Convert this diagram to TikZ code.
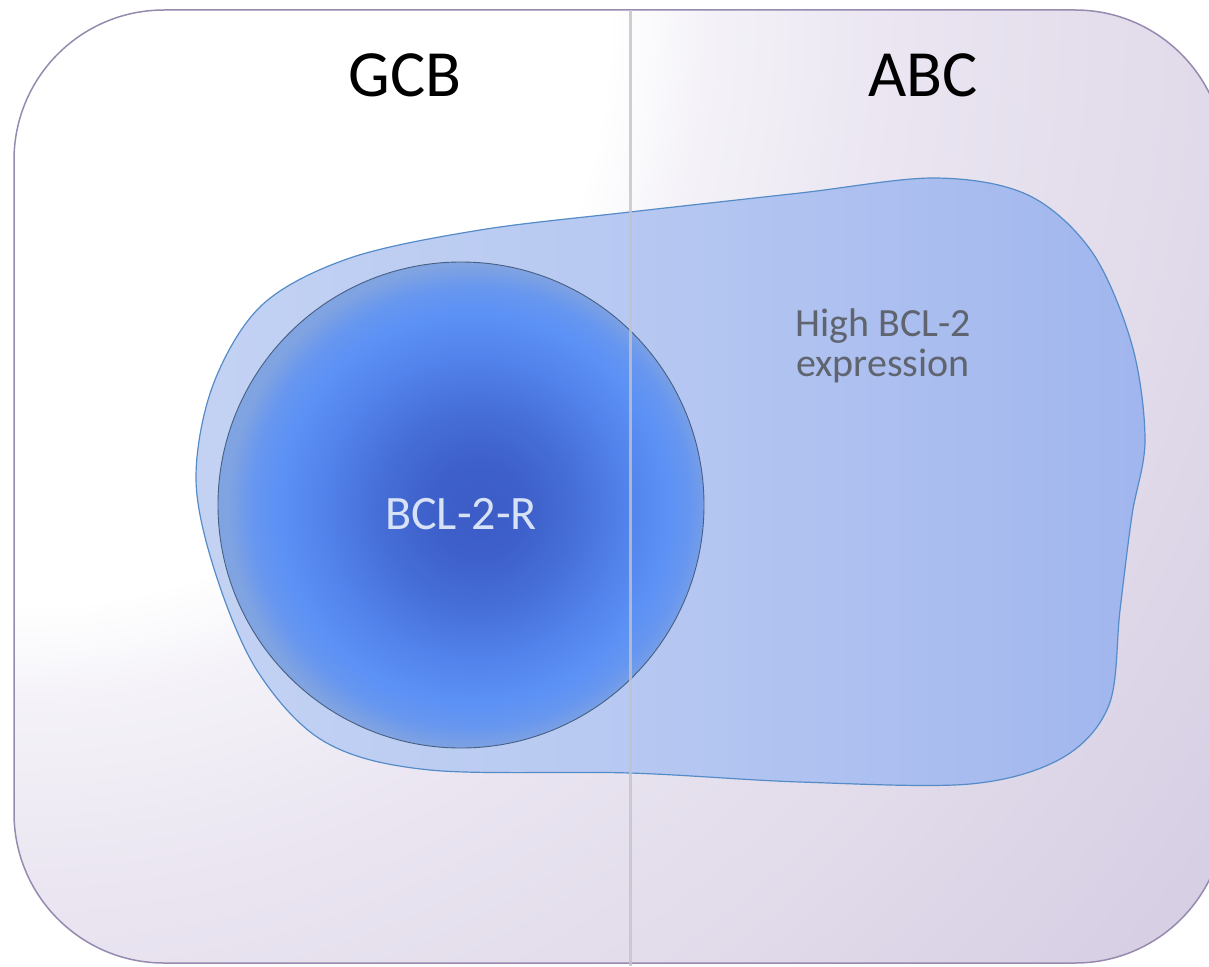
\documentclass[tikz,border=0pt]{standalone}
\usepackage{fontspec}
\setmainfont{Carlito}
\definecolor{frameline}{RGB}{150,138,175}
\definecolor{bg0}{RGB}{213,205,227}
\definecolor{bg2}{RGB}{228,222,236}
\definecolor{bg3}{RGB}{234,229,241}
\definecolor{bg4}{RGB}{244,242,248}
\definecolor{blobL}{RGB}{208,221,244}
\definecolor{blobM}{RGB}{185,202,242}
\definecolor{blobR}{RGB}{140,165,234}
\definecolor{blobline}{RGB}{85,140,200}
\definecolor{cA}{RGB}{60,92,198}
\definecolor{cB}{RGB}{62,96,202}
\definecolor{cC}{RGB}{70,110,215}
\definecolor{cD}{RGB}{82,130,235}
\definecolor{cE}{RGB}{92,145,245}
\definecolor{cF}{RGB}{102,150,240}
\definecolor{cG}{RGB}{128,163,225}
\definecolor{circline}{RGB}{70,95,130}
\definecolor{divider}{RGB}{195,195,200}
\definecolor{graytext}{RGB}{95,100,110}
\definecolor{lighttext}{RGB}{215,226,246}
\pgfdeclareradialshading{circshade}{\pgfpoint{2bp}{-0.5bp}}{color(0bp)=(cA); color(5bp)=(cB); color(10bp)=(cC); color(15.5bp)=(cD); color(20bp)=(cE); color(22.5bp)=(cF); color(25bp)=(cG); color(50bp)=(cG)}
\pgfdeclarehorizontalshading{blobshade}{100bp}{color(0bp)=(blobL); color(45bp)=(blobM); color(100bp)=(blobR)}
\pgfdeclareradialshading{bgshade}{\pgfpoint{0bp}{0bp}}{color(0bp)=(white); color(9.8bp)=(white); color(11.4bp)=(bg4); color(14.6bp)=(bg3); color(17.9bp)=(bg2); color(25bp)=(bg0); color(50bp)=(bg0)}
\tikzset{
  frame/.style={draw=frameline, line width=1.5pt, rounded corners=150pt},
  blob/.style={draw=blobline, line width=1.2pt, shading=blobshade},
  disc/.style={draw=circline, line width=0.9pt, shading=circshade},
  head/.style={font=\fontsize{66}{70}\selectfont, text=black},
  label/.style={font=\fontsize{40}{40}\selectfont, text=graytext, align=center},
  inner/.style={font=\fontsize{48}{50}\selectfont, text=lighttext}
}
\begin{document}
\begin{tikzpicture}[x=1pt,y=-1pt]
\useasboundingbox (0,0) rectangle (1209,966);
\begin{scope}
  \clip[rounded corners=150pt] (14,10) rectangle (1225,963);
  \shade[shading=bgshade] (14,10) circle[radius=1520];
\end{scope}
\path[frame] (14,10) rectangle (1225,963);
\path[blob] plot[smooth cycle, tension=0.55] coordinates {
  (196,480) (213,385) (262,305) (350,258) (480,230) (630,212) (800,193)
  (935,178) (1028,195) (1092,252) (1132,345) (1145,440) (1132,515)
  (1120,610) (1109,705) (1062,758) (970,784) (800,782) (630,773)
  (430,770) (325,742) (258,672) (216,575)};
\path[disc] (461,505) circle[radius=243];
\coordinate (dtop) at (630,10);
\coordinate (dbot) at (630,966);
\draw[divider, line width=3pt, opacity=0.8] (dtop) -- (dbot);
\node[head] (gcb) at (405,75) {GCB};
\node[head] (abc) at (923,75) {ABC};
\node[label] (high) at (883,346) {High BCL-2\\expression};
\node[inner] (bcl) at (461,514) {BCL-2-R};
\end{tikzpicture}
\end{document}
